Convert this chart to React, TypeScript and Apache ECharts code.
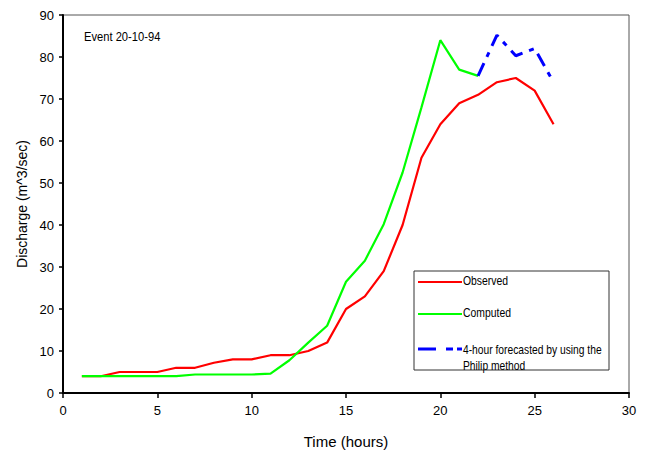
import React, { useEffect, useRef } from "react";
import * as echarts from "echarts";

const hours = [1, 2, 3, 4, 5, 6, 7, 8, 9, 10, 11, 12, 13, 14, 15, 16, 17, 18, 19, 20, 21, 22, 23, 24, 25, 26];
const observed = [4, 4, 5, 5, 5, 6, 6, 7.2, 8, 8, 9, 9, 10, 12, 20, 23, 29, 40, 56, 64, 69, 71, 74, 75, 72, 64];
const computedHours = [1, 2, 3, 4, 5, 6, 7, 8, 9, 10, 11, 12, 13, 14, 15, 16, 17, 18, 19, 20, 21, 22];
const computed = [4, 4, 4, 4, 4, 4, 4.4, 4.4, 4.4, 4.4, 4.6, 7.8, 12, 16, 26.5, 31.5, 40.2, 52.5, 68, 84, 77, 75.5];
const forecastHours = [22, 23, 24, 25, 26];
const forecast = [75.5, 85.2, 80.3, 82, 74];

const legendNames = ["Observed", "Computed", "4-hour forecasted by using the\nPhilip method"];

const FONT = "'Liberation Sans', Arial, sans-serif";
const DASH = [14, 7, 5, 7];

export default function App() {
  const ref = useRef<HTMLDivElement>(null);
  useEffect(() => {
    const chart = echarts.init(ref.current!, null, { renderer: "svg" });
    const pairs = (xs: number[], ys: number[]) => xs.map((x, i) => [x, ys[i]]);
    chart.setOption({
      animation: false,
      backgroundColor: "#fff",
      textStyle: { fontFamily: FONT },
      grid: { left: 63, right: 17, top: 15, bottom: 63, show: true, borderColor: "#555", borderWidth: 1 },
      xAxis: {
        type: "value",
        min: 0,
        max: 30,
        interval: 5,
        name: "Time (hours)",
        nameLocation: "middle",
        nameGap: 41,
        nameTextStyle: { fontSize: 15, color: "#000", fontFamily: FONT },
        axisLine: { show: true, lineStyle: { color: "#000", width: 2 } },
        axisTick: { show: true, length: 5, lineStyle: { color: "#000", width: 1.5 } },
        axisLabel: { fontSize: 13, color: "#000", margin: 11, fontFamily: FONT },
        splitLine: { show: false },
      },
      yAxis: {
        type: "value",
        min: 0,
        max: 90,
        interval: 10,
        name: "Discharge (m^3/sec)",
        nameLocation: "middle",
        nameGap: 33,
        nameTextStyle: { fontSize: 14, color: "#000", fontFamily: FONT },
        axisLine: { show: true, lineStyle: { color: "#000", width: 2 } },
        axisTick: { show: true, length: 4, lineStyle: { color: "#000", width: 1.5 } },
        axisLabel: { fontSize: 13, color: "#000", margin: 9, fontFamily: FONT },
        splitLine: { show: false },
      },
      series: [
        {
          name: legendNames[0],
          type: "line",
          data: pairs(hours, observed),
          showSymbol: false,
          lineStyle: { color: "#ff0000", width: 2.2 },
          itemStyle: { color: "#ff0000" },
        },
        {
          name: legendNames[1],
          type: "line",
          data: pairs(computedHours, computed),
          showSymbol: false,
          lineStyle: { color: "#00ff00", width: 2.2 },
          itemStyle: { color: "#00ff00" },
        },
        {
          name: legendNames[2],
          type: "line",
          data: pairs(forecastHours, forecast),
          showSymbol: false,
          lineStyle: { color: "#0000ff", width: 3, type: DASH },
          itemStyle: { color: "#0000ff" },
          z: 3,
        },
      ],
      graphic: [
        {
          type: "text",
          x: 84,
          y: 30,
          scaleX: 0.86,
          style: { text: "Event 20-10-94", font: `13px ${FONT}`, fill: "#000" },
        },
        {
          type: "group",
          x: 414,
          y: 271,
          children: [
            { type: "rect", shape: { x: 0, y: 0, width: 195, height: 99 }, style: { fill: "#fff", stroke: "#333", lineWidth: 1 } },
            { type: "line", shape: { x1: 4, y1: 11, x2: 48, y2: 11 }, style: { stroke: "#ff0000", lineWidth: 2.2 } },
            { type: "text", x: 49, y: 3, scaleX: 0.8, style: { text: legendNames[0], font: `13px ${FONT}`, fill: "#000" } },
            { type: "line", shape: { x1: 4, y1: 43, x2: 48, y2: 43 }, style: { stroke: "#00ff00", lineWidth: 2.2 } },
            { type: "text", x: 49, y: 35, scaleX: 0.8, style: { text: legendNames[1], font: `13px ${FONT}`, fill: "#000" } },
            { type: "line", shape: { x1: 4, y1: 78, x2: 48, y2: 78 }, style: { stroke: "#0000ff", lineWidth: 3, lineDash: [18, 10, 7, 4] } },
            { type: "text", x: 49, y: 70, scaleX: 0.79, style: { text: legendNames[2], font: `13px ${FONT}`, fill: "#000", lineHeight: 16 } },
          ],
        },
      ],
    });
    return () => chart.dispose();
  }, []);
  return <div ref={ref} style={{ position: "absolute", left: 0, top: 0, width: 646, height: 456 }} />;
}
